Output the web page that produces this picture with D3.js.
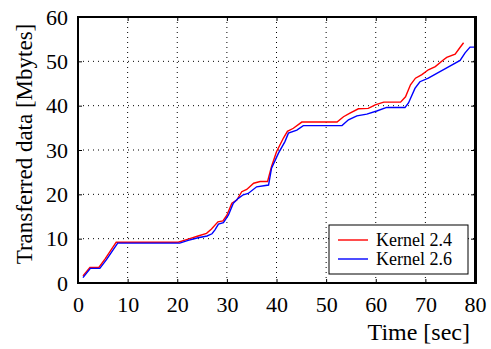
<!DOCTYPE html>
<html>
<head>
<meta charset="utf-8">
<script src="https://cdn.jsdelivr.net/npm/d3@7"></script>
<style>
  body { margin: 0; background: #fff; }
  svg text { fill: #000; }
</style>
</head>
<body>
<svg id="chart" width="491" height="349"></svg>
<script>
// values: [time sec, Mbytes]
const kernel24 = [
  [1.0, 1.6], [2.4, 3.5], [4.2, 3.5], [5.5, 5.5], [6.5, 7.2], [7.7, 9.2], [20.2, 9.2],
  [22.2, 9.9], [24.2, 10.6], [25.9, 11.2], [26.9, 12.2], [28.2, 13.8], [29.2, 14.0],
  [30.0, 15.3], [31.0, 18.0], [32.0, 18.7], [33.0, 20.6], [34.0, 21.1], [35.4, 22.5],
  [36.7, 22.9], [38.2, 22.9], [39.0, 26.3], [40.0, 29.6], [41.4, 32.7], [42.2, 34.2],
  [43.4, 34.9], [45.1, 36.3], [52.2, 36.3], [53.5, 37.5], [54.8, 38.3], [56.5, 39.3],
  [58.5, 39.4], [59.9, 40.2], [61.6, 40.8], [65.0, 40.8], [66.0, 42.0], [67.0, 44.7],
  [68.0, 46.2], [69.3, 47.0], [70.6, 48.1], [72.0, 48.8], [73.6, 50.3], [74.3, 50.9],
  [76.0, 51.6], [76.9, 53.0], [77.7, 54.2]
];
const kernel26 = [
  [1.0, 1.2], [2.5, 3.3], [4.4, 3.3], [5.7, 5.2], [6.8, 7.0], [8.0, 9.0], [20.5, 9.0],
  [22.2, 9.6], [24.2, 10.2], [26.0, 10.6], [27.0, 11.1], [27.6, 12.0], [28.3, 13.3],
  [29.3, 13.6], [30.3, 15.3], [31.3, 18.0], [32.3, 19.1], [33.3, 19.9], [34.3, 20.2],
  [36.0, 21.7], [38.4, 22.1], [39.0, 25.9], [40.4, 29.3], [41.7, 31.9], [42.4, 33.8],
  [44.1, 34.5], [45.4, 35.5], [53.2, 35.5], [54.5, 36.8], [56.2, 37.7], [58.2, 38.1],
  [60.2, 38.8], [62.2, 39.6], [65.9, 39.6], [66.6, 40.6], [67.9, 43.9], [68.9, 45.4],
  [70.6, 46.2], [72.3, 47.3], [74.3, 48.5], [77.0, 50.2], [78.0, 51.9], [79.0, 53.2],
  [79.8, 53.2]
];
const seriesNames = ['Kernel 2.4', 'Kernel 2.6'];
const seriesColors = ['#ff0000', '#0000ff'];
const xTicks = [0, 10, 20, 30, 40, 50, 60, 70, 80];
const yTicks = [0, 10, 20, 30, 40, 50, 60];

const serif = "Liberation Serif, Tinos, Noto Serif, DejaVu Serif, Times New Roman, Times, serif";
const svg = d3.select('#chart');
const padL = 78, padR = 475, padT = 17, padB = 283;

const x = d3.scaleLinear().domain([0, 80]).range([padL, padR]);
const y = d3.scaleLinear().domain([0, 60]).range([padB, padT]);

// dotted grid
const grid = svg.append('g')
  .attr('stroke', '#000')
  .attr('stroke-width', 1)
  .attr('stroke-dasharray', '1,4');
grid.selectAll('.gx')
  .data(xTicks.slice(1, -1))
  .join('line')
    .attr('x1', d => x(d)).attr('x2', d => x(d))
    .attr('y1', padT).attr('y2', padB);
grid.selectAll('.gy')
  .data(yTicks.slice(1, -1))
  .join('line')
    .attr('x1', padL).attr('x2', padR)
    .attr('y1', d => y(d)).attr('y2', d => y(d));

// lines
const line = d3.line().x(d => x(d[0])).y(d => y(d[1]));
[kernel24, kernel26].forEach((data, i) => {
  svg.append('path')
    .datum(data)
    .attr('fill', 'none')
    .attr('stroke', seriesColors[i])
    .attr('stroke-width', 1.4)
    .attr('d', line);
});

// axes with inward ticks
svg.append('g')
  .attr('transform', `translate(0,${padB})`)
  .call(d3.axisBottom(x).tickValues(xTicks).tickSizeInner(-4).tickSizeOuter(0).tickPadding(13))
  .attr('font-family', serif).attr('font-size', 22)
  .call(g => g.select('.domain').remove());

svg.append('g')
  .attr('transform', `translate(${padL},0)`)
  .call(d3.axisLeft(y).tickValues(yTicks).tickSizeInner(-4).tickSizeOuter(0).tickPadding(10))
  .attr('font-family', serif).attr('font-size', 22)
  .call(g => g.select('.domain').remove());

svg.append('g')
  .attr('transform', `translate(${padR},0)`)
  .call(d3.axisRight(y).tickValues(yTicks).tickSizeInner(-4).tickSizeOuter(0).tickFormat(''))
  .call(g => g.select('.domain').remove());

svg.append('g')
  .attr('transform', `translate(0,${padT})`)
  .call(d3.axisTop(x).tickValues(xTicks).tickSizeInner(-4).tickSizeOuter(0).tickFormat(''))
  .call(g => g.select('.domain').remove());

// frame
svg.append('rect')
  .attr('x', padL).attr('y', padT)
  .attr('width', padR - padL).attr('height', padB - padT)
  .attr('fill', 'none').attr('stroke', '#000').attr('stroke-width', 2);
svg.append('line')
  .attr('x1', padR + 0.5).attr('x2', padR + 0.5)
  .attr('y1', padT - 1).attr('y2', padB + 1)
  .attr('stroke', '#000').attr('stroke-width', 3);

// axis titles
svg.append('text')
  .attr('x', 470).attr('y', 340)
  .attr('text-anchor', 'end')
  .attr('font-family', serif)
  .attr('font-size', 24)
  .text('Time [sec]');

svg.append('text')
  .attr('transform', 'translate(32,144) rotate(-90)')
  .attr('text-anchor', 'middle')
  .attr('font-family', serif)
  .attr('font-size', 23)
  .text('Transferred data [Mbytes]');

// legend
const legend = svg.append('g');
legend.append('rect')
  .attr('x', 329).attr('y', 225)
  .attr('width', 139).attr('height', 49)
  .attr('fill', '#fff').attr('stroke', '#000').attr('stroke-width', 1);
seriesNames.forEach((name, i) => {
  const ly = 240 + i * 19;
  legend.append('line')
    .attr('x1', 338).attr('x2', 368)
    .attr('y1', ly).attr('y2', ly)
    .attr('stroke', seriesColors[i]).attr('stroke-width', 1.4);
  legend.append('text')
    .attr('x', 376).attr('y', ly + 6)
    .attr('font-family', serif)
    .attr('font-size', 18)
    .text(name);
});
</script>
</body>
</html>
